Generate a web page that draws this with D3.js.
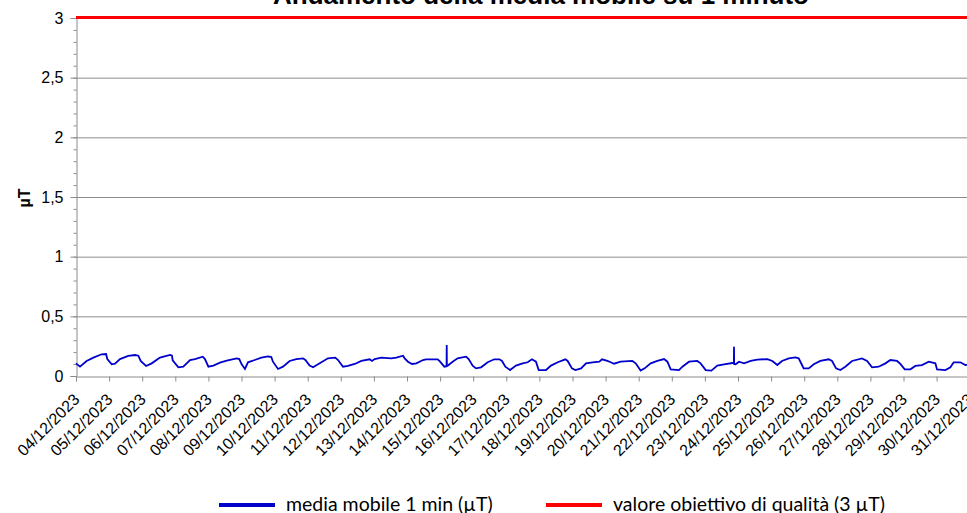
<!DOCTYPE html>
<html>
<head>
<meta charset="utf-8">
<script src="https://cdn.jsdelivr.net/npm/d3@7"></script>
<style>
  body { margin: 0; background: #fff; }
  svg { display: block; }
</style>
</head>
<body>
<script>
// titolo e assi
var chartTitle = "Andamento della media mobile su 1 minuto";
var yTicks = [0, 0.5, 1, 1.5, 2, 2.5, 3];
var seriesNames = ["media mobile 1 min (\u00b5T)", "valore obiettivo di qualit\u00e0 (3 \u00b5T)"];
var limitValue = 3;

// ore trascorse dal 04/12/2023 00:00
var hours = [0,2.9,7.7,12.6,18.6,21.8,22.7,25.9,28.3,31.9,37.9,42.8,45.2,46.9,50.8,54.9,60.9,68.2,69.6,70.1,
  74.2,77.8,82.7,86.3,91.9,93.5,96.0,99.6,104.4,109.3,116.5,118.4,120.1,122.5,
  124.7,129.6,134.4,139.2,141.6,142.8,146.5,150.1,154.9,159.8,164.6,166.3,169.4,171.9,176.7,182.7,188.0,190.0,193.6,197.2,
  202.1,206.9,212.9,214.6,216.6,221.4,228.6,232.3,237.1,238.3,240.7,243.6,246.8,251.6,
  253.8,262.2,263.5,267.1,268.7,268.8,268.9,269.5,273.1,276.7,282.8,284.7,287.6,290.0,293.7,298.5,303.3,307.0,308.9,311.3,
  314.7,319.0,323.9,327.5,330.6,333.5,335.5,340.8,344.4,349.3,354.8,356.5,359.6,362.1,366.2,369.8,374.6,379.5,381.4,
  385.3,387.7,390.1,394.9,403.4,405.8,409.4,412.3,416.7,421.5,426.4,428.8,431.2,437.2,439.7,444.5,450.5,452.9,456.6,460.7,
  465.0,469.9,475.9,477.0,477.1,477.2,478.3,480.7,484.4,489.2,494.0,501.3,504.9,508.5,
  511.9,516.8,521.6,524.0,526.4,527.6,531.3,534.9,539.7,545.8,548.2,551.1,554.2,557.8,562.7,569.9,573.6,577.2,582.0,586.9,
  590.5,595.3,597.7,600.9,605.0,608.6,613.4,618.3,623.1,624.3,630.4,634.0,636.4,641.2,644.9,650];
// media mobile 1 min (µT)
var values = [.106,.078,.126,.154,.182,.184,.142,.098,.103,.142,.168,.176,.170,.126,.084,.106,.154,.176,.170,.131,
  .073,.078,.134,.142,.162,.142,.078,.087,.112,.128,.148,.142,.098,.059,
  .115,.134,.154,.165,.159,.120,.059,.078,.126,.142,.148,.134,.087,.073,.106,.148,.154,.134,.078,.084,
  .101,.126,.140,.126,.142,.154,.148,.154,.170,.148,.120,.101,.106,.134,
  .140,.140,.126,.078,.082,.26,.085,.087,.120,.148,.162,.142,.087,.064,.073,.115,.140,.140,.126,.078,
  .050,.087,.106,.115,.140,.120,.050,.050,.087,.115,.140,.126,.064,.050,.064,.106,.115,.120,.140,
  .126,.115,.103,.120,.126,.106,.045,.064,.106,.126,.142,.120,.056,.050,.078,.120,.126,.106,.050,.045,
  .087,.098,.109,.105,.245,.100,.098,.120,.106,.126,.137,.142,.126,.092,
  .126,.148,.156,.148,.092,.064,.064,.098,.126,.140,.126,.064,.050,.078,.126,.148,.126,.073,.078,.106,
  .134,.126,.101,.056,.056,.084,.092,.120,.106,.056,.050,.073,.115,.115,.092,.095];

var width = 967, height = 513;
var start = new Date(2023, 11, 4), end = new Date(2023, 11, 31);

var svg = d3.select("body").append("svg")
  .attr("width", width).attr("height", height);

var x = d3.scaleTime().domain([start, end]).range([76, 969.7]);
var y = d3.scaleLinear().domain([0, 3]).range([376, 18]);

var data = hours.map(function(h, i) {
  return { t: new Date(start.getTime() + h * 3600e3), v: values[i] };
});

// griglia
svg.append("g").selectAll("line").data(yTicks.slice(1)).enter().append("line")
  .attr("x1", 76).attr("x2", width)
  .attr("y1", function(d) { return y(d) + 0.5; }).attr("y2", function(d) { return y(d) + 0.5; })
  .attr("stroke", function(d) { return d == 3 ? "#222" : "#8c8c8c"; }).attr("stroke-width", 1);

// asse y
var fmt = function(d) { return String(d).replace(".", ","); };
var yAxis = svg.append("g").attr("transform", "translate(76.5,0)")
  .call(d3.axisLeft(y).tickValues(yTicks).tickSize(6).tickFormat(fmt));
svg.append("g").attr("transform", "translate(76.5,0)")
  .call(d3.axisLeft(y).tickValues(d3.range(0, 3.001, 0.1)).tickSize(3).tickFormat(""))
  .select(".domain").remove();
svg.selectAll(".tick line, .domain").attr("stroke", "#8c8c8c");
yAxis.selectAll("text").attr("x", -13).attr("fill", "#000")
  .style("font-family", "Liberation Sans, Arial, sans-serif").style("font-size", "16px");

// asse x
var xAxis = svg.append("g").attr("transform", "translate(0,376.5)")
  .call(d3.axisBottom(x).ticks(d3.timeDay.every(1)).tickSize(5).tickFormat(d3.timeFormat("%d/%m/%Y")));
xAxis.selectAll("line, path").attr("stroke", "#8c8c8c");
xAxis.selectAll("text")
  .attr("y", 0).attr("dy", 0).attr("x", 0)
  .attr("text-anchor", "end").attr("fill", "#000")
  .attr("transform", "translate(4,24) rotate(-45)")
  .style("font-family", "Liberation Sans, Arial, sans-serif").style("font-size", "16px");

// serie
svg.append("path").datum(data)
  .attr("fill", "none").attr("stroke", "#0000cc").attr("stroke-width", 1.8)
  .attr("d", d3.line().x(function(d) { return x(d.t); }).y(function(d) { return y(d.v); }));

svg.append("line")
  .attr("x1", 76).attr("x2", width)
  .attr("y1", y(limitValue) - 0.5).attr("y2", y(limitValue) - 0.5)
  .attr("stroke", "#ff0000").attr("stroke-width", 3);

// titolo
svg.append("text").attr("x", 541).attr("y", 4).attr("text-anchor", "middle")
  .style("font-family", "Liberation Sans, Arial, sans-serif").style("font-size", "26px").style("font-weight", "bold")
  .text(chartTitle);

// etichetta asse y
svg.append("text").attr("transform", "translate(30,198) rotate(-90)").attr("text-anchor", "middle")
  .style("font-family", "Liberation Sans, Arial, sans-serif").style("font-size", "16px").style("font-weight", "bold")
  .text("\u00b5T");

// legenda
var legendColors = ["#0000cc", "#ff0000"];
var legendX = [219, 546];
var leg = svg.selectAll(".leg").data(seriesNames).enter().append("g")
  .attr("transform", function(d, i) { return "translate(" + legendX[i] + ",505)"; });
leg.append("line").attr("x1", 0).attr("x2", 56).attr("y1", 0).attr("y2", 0)
  .attr("stroke", function(d, i) { return legendColors[i]; }).attr("stroke-width", 4);
leg.append("text").attr("x", 67).attr("y", 6)
  .style("font-family", "Lato, sans-serif").style("font-size", "19.5px")
  .text(function(d) { return d; });
</script>
</body>
</html>
